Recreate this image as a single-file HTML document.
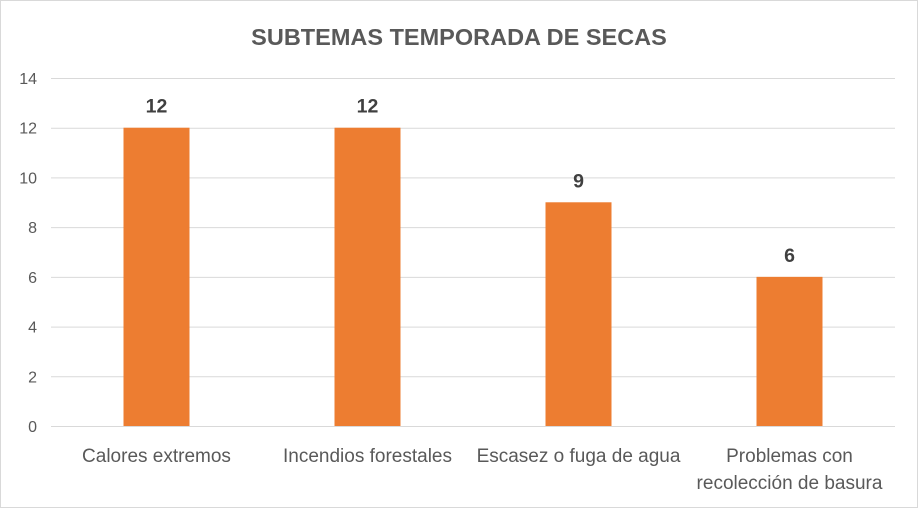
<!DOCTYPE html>
<html><head><meta charset="utf-8"><style>
body{margin:0;background:#fff}
svg{display:block;font-family:"Liberation Sans",sans-serif}
</style></head><body>
<svg width="918" height="508" id="c">
<rect x="0.5" y="0.5" width="917" height="507" fill="#fff" stroke="#d9d9d9"/>
<text x="459" y="45" text-anchor="middle" font-size="23.5" font-weight="bold" fill="#595959">SUBTEMAS TEMPORADA DE SECAS</text>
<g id="grid"></g><g id="bars"></g><g id="labels"></g>
</svg>
<script>
const categories=[["Calores extremos"],["Incendios forestales"],["Escasez o fuga de agua"],["Problemas con","recolección de basura"]];
const values=[12,12,9,6];
const ticks=[0,2,4,6,8,10,12,14];
const ns="http://www.w3.org/2000/svg";
const x0=51,x1=895,yTop=78,yBot=426,yMax=14;
const y=v=>yBot-(v/yMax)*(yBot-yTop);
const bw=(x1-x0)/categories.length;
const xc=i=>x0+bw*(i+0.5);
function mk(t,a,p){const e=document.createElementNS(ns,t);for(const k in a)e.setAttribute(k,a[k]);p.appendChild(e);return e;}
const g=document.getElementById('grid'),b=document.getElementById('bars'),l=document.getElementById('labels');
ticks.forEach(t=>{
 const ln=mk('line',{x1:x0,x2:x1,y1:y(t)+0.5,y2:y(t)+0.5,stroke:'#d9d9d9'},g);
 
 
 const tx=mk('text',{x:37,y:y(t)+6,'text-anchor':'end','font-size':16,fill:'#595959'},g);
 tx.textContent=t;
 
 
});
values.forEach((v,i)=>{
 const r=mk('rect',{x:xc(i)-33,y:y(v),width:66,height:yBot-y(v),fill:'#ed7d31'},b);
 
 
 const vl=mk('text',{x:xc(i),y:y(v)-15,'text-anchor':'middle','font-size':19.5,'font-weight':'bold',fill:'#404040'},l);
 vl.textContent=v;
 
 
 categories[i].forEach((s,j)=>{
  const c=mk('text',{x:xc(i),y:462+j*27,'text-anchor':'middle','font-size':19,fill:'#595959'},l);
  c.textContent=s;
  
  
 });
});
</script>
</body></html>
